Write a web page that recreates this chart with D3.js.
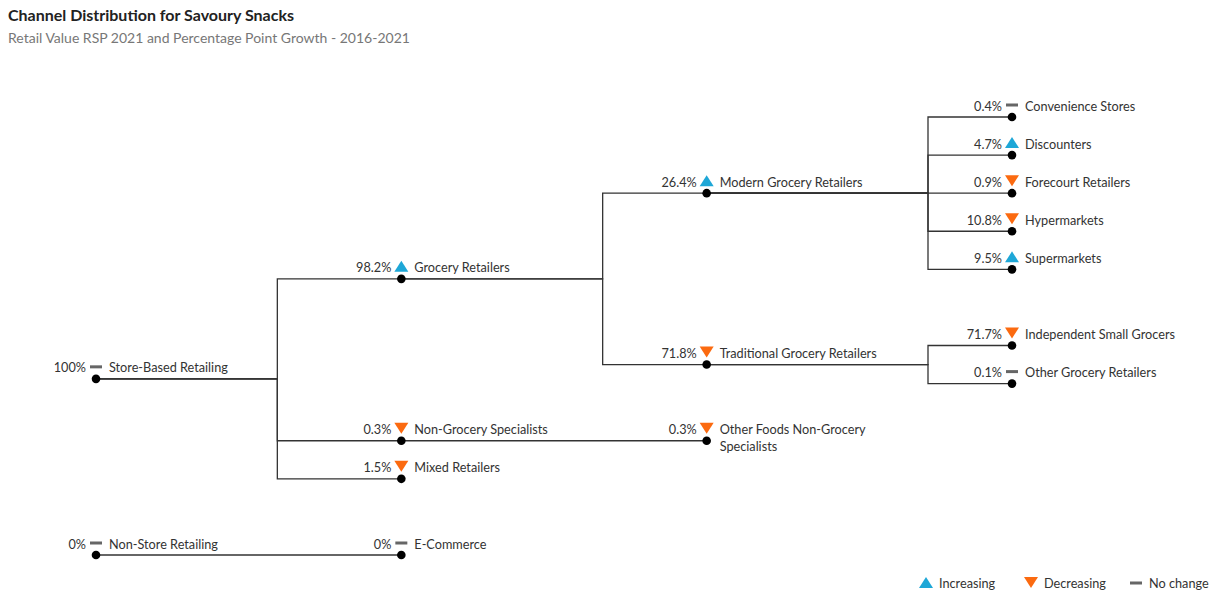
<!DOCTYPE html>
<html>
<head>
<meta charset="utf-8">
<script src="https://cdn.jsdelivr.net/npm/d3@7"></script>
<style>
  body { margin: 0; background: #fff; }
  svg text { font-family: Lato, "Noto Sans", sans-serif; }
</style>
</head>
<body>
<svg id="chart" width="1225" height="594"></svg>
<script>
// channel tree: name, parent, share of retail value (%), trend 2016-2021
var names = ["Store-Based Retailing", "Grocery Retailers", "Non-Grocery Specialists", "Mixed Retailers",
    "Modern Grocery Retailers", "Traditional Grocery Retailers", "Other Foods Non-Grocery Specialists",
    "Convenience Stores", "Discounters", "Forecourt Retailers", "Hypermarkets", "Supermarkets",
    "Independent Small Grocers", "Other Grocery Retailers", "Non-Store Retailing", "E-Commerce"]
var parents = ["", "Store-Based Retailing", "Store-Based Retailing", "Store-Based Retailing",
    "Grocery Retailers", "Grocery Retailers", "Non-Grocery Specialists",
    "Modern Grocery Retailers", "Modern Grocery Retailers", "Modern Grocery Retailers", "Modern Grocery Retailers", "Modern Grocery Retailers",
    "Traditional Grocery Retailers", "Traditional Grocery Retailers", "", "Non-Store Retailing"]
var shares = [100, 98.2, 0.3, 1.5, 26.4, 71.8, 0.3, 0.4, 4.7, 0.9, 10.8, 9.5, 71.7, 0.1, 0, 0]
var trends = ["flat", "up", "down", "down", "up", "down", "down", "flat", "up", "down", "down", "up", "down", "flat", "flat", "flat"]

var legendKeys = ["up", "down", "flat"]
var legendLabels = ["Increasing", "Decreasing", "No change"]

var upColor = "#1ea7d7", downColor = "#fb6a10", flatColor = "#666"

var svg = d3.select("#chart")

svg.append("text")
    .attr("x", 8).attr("y", 21)
    .style("font-size", "16px").style("font-weight", "bold").attr("fill", "#222")
    .text("Channel Distribution for Savoury Snacks")
svg.append("text")
    .attr("x", 8).attr("y", 43)
    .style("font-size", "14px").attr("fill", "#777")
    .text("Retail Value RSP 2021 and Percentage Point Growth - 2016-2021")

var rows = names.map((n, i) => ({ name: n, parent: parents[i] ? parents[i] : "root", share: shares[i], trend: trends[i] }))
rows.unshift({ name: "root", parent: "" })

var root = d3.stratify().id(d => d.name).parentId(d => d.parent)(rows)

d3.tree().nodeSize([1, 1])
    .separation((a, b) => a.parent == b.parent ? 1 : 2)(root)

var nodes = root.descendants().filter(d => d.depth > 0)

var y = d3.scaleLinear()
    .domain(d3.extent(nodes, d => d.x))
    .range([117, 555])
var x = d3.scaleLinear()
    .domain([1, 4])
    .range([96, 1012])

// horizontal distance from the elbow to the child, per level
var elbowGap = [124, 104, 84]

svg.append("g").selectAll("path")
    .data(nodes.filter(d => d.depth > 1))
    .join("path")
    .attr("fill", "none")
    .attr("stroke", "#333")
    .attr("stroke-width", 1.3)
    .attr("d", function (d) {
        var ex = x(d.depth) - elbowGap[d.depth - 2]
        return "M" + x(d.parent.depth) + "," + y(d.parent.x) + "H" + ex + "V" + y(d.x) + "H" + x(d.depth)
    })

var fmt = v => (v % 1 === 0 ? v : v.toFixed(1)) + "%"

var node = svg.append("g").selectAll("g")
    .data(nodes)
    .join("g")
    .attr("transform", d => `translate(${x(d.depth)},${y(d.x)})`)

node.append("circle").attr("r", 4.3).attr("fill", "#000")

node.append("text")
    .attr("x", -10).attr("y", -6.5)
    .attr("text-anchor", "end")
    .style("font-size", "12.7px").attr("fill", "#333")
    .text(d => fmt(d.data.share))

function drawSymbol(g, trend) {
    if (trend == "up") {
        g.append("path").attr("d", "M-7,5L7,5L0,-6Z").attr("fill", upColor)
    } else if (trend == "down") {
        g.append("path").attr("d", "M-7,-6L7,-6L0,5Z").attr("fill", downColor)
    } else {
        g.append("rect").attr("x", -6).attr("y", -1.5).attr("width", 12).attr("height", 3).attr("fill", flatColor)
    }
}

node.each(function (d) {
    var s = d3.select(this).append("g").attr("transform", "translate(0,-12)")
    drawSymbol(s, d.data.trend)
})

node.append("text")
    .attr("x", 13).attr("y", -6.5)
    .style("font-size", "12.7px").attr("fill", "#333")
    .each(function (d) {
        var t = d3.select(this)
        var words = d.data.name.split(" ")
        var line = [], lines = []
        words.forEach(function (w) {
            line.push(w)
            t.text(line.join(" "))
            if (this_width(t) > 175 && line.length > 1) {
                line.pop()
                lines.push(line.join(" "))
                line = [w]
            }
        })
        lines.push(line.join(" "))
        t.text(null)
        lines.forEach((l, i) => t.append("tspan").attr("x", 13).attr("dy", i ? 17 : 0).text(l))
    })

function this_width(t) { return t.node().getComputedTextLength() }

// legend
var legend = svg.append("g").selectAll("g")
    .data(legendKeys)
    .join("g")
    .attr("transform", (d, i) => `translate(${926 + i * 105},583)`)

legend.each(function (d) { drawSymbol(d3.select(this), d) })
legend.append("text")
    .attr("x", 13).attr("y", 5)
    .style("font-size", "12.7px").attr("fill", "#333")
    .text((d, i) => legendLabels[i])
</script>
</body>
</html>
